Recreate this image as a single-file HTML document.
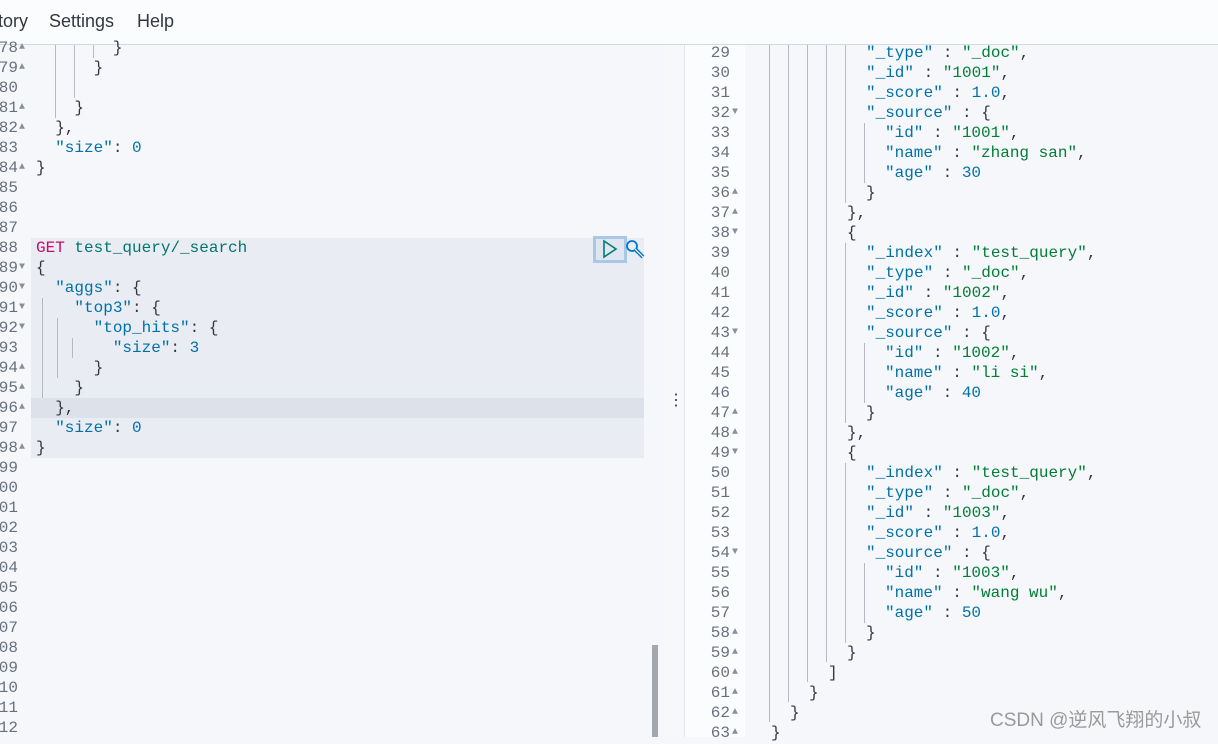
<!DOCTYPE html>
<html><head><meta charset="utf-8"><style>
*{margin:0;padding:0;box-sizing:border-box}
body{width:1218px;height:737px;overflow:hidden;background:#f5f7fa;position:relative;font-family:"Liberation Mono",monospace;}
.top{position:absolute;left:0;top:0;width:1218px;height:45px;background:#fbfcfd;border-bottom:1px solid #d3dae6;font-family:"Liberation Sans",sans-serif;font-size:18px;color:#343741}
.top span{position:absolute;top:11px}
.l{position:absolute;height:20px;line-height:21px;font-size:16px;white-space:pre;color:#343741}
.n{position:absolute;height:20px;line-height:21px;font-size:16px;color:#69707d;text-align:right;white-space:pre}
.f{position:absolute;font-size:10px;color:#8a8f99;line-height:20px;height:20px}
.g{position:absolute;width:1px;background:#b4b9c2}
.k{color:#0071a6}.s{color:#017d36}.v{color:#0071a6}.m{color:#c80a68}.p{color:#00756c}
</style></head><body>
<div class="top"><span style="left:-2px">tory</span><span style="left:49px">Settings</span><span style="left:137px">Help</span></div>

<div style="position:absolute;left:31px;top:238px;width:613px;height:220px;background:#e9ecf3"></div>
<div style="position:absolute;left:31px;top:398px;width:613px;height:20px;background:#dde1e9"></div>
<div style="position:absolute;left:664px;top:45px;width:20px;height:692px;background:#f7f8fa"></div>
<div style="position:absolute;left:684px;top:45px;width:1px;height:692px;background:#e3e6ec"></div>
<div style="position:absolute;left:685px;top:45px;width:60px;height:692px;background:#fbfcfd"></div>
<div style="position:absolute;left:652px;top:645px;width:6px;height:92px;background:#a3a7ae"></div>
<div style="position:absolute;left:668px;top:390px;font-family:'Liberation Sans',sans-serif;font-size:16px;color:#343741">⋮</div>

<div id="L"></div>
<div id="R"></div>

<div style="position:absolute;left:593px;top:236px;width:34px;height:27px;border:3px solid #a9c8e6;background:#dfe6f0"></div>
<svg style="position:absolute;left:600px;top:239px" width="20" height="20"><path d="M4 2 L16 10 L4 18 Z" fill="none" stroke="#017d73" stroke-width="1.6"/></svg>
<svg style="position:absolute;left:624px;top:238px" width="24" height="24"><circle cx="8" cy="8" r="5" fill="none" stroke="#0077cc" stroke-width="1.8"/><path d="M11 11 L19 19" stroke="#0077cc" stroke-width="4"/><path d="M11 11 L19 19" stroke="#fff" stroke-width="1.2"/></svg>

<div style="position:absolute;left:990px;top:705px;font-family:'Liberation Sans','Noto Sans CJK SC',sans-serif;font-size:19px;color:#9a9a9a">CSDN @逆风飞翔的小叔</div>

<script>
var L=document.getElementById('L'),h='';
var left={178:'        }',179:'      }',181:'    }',182:'  },',183:'  <span class="k">"size"</span>: <span class="v">0</span>',184:'}',
188:'<span class="m">GET</span> <span class="p">test_query/_search</span>',189:'{',190:'  <span class="k">"aggs"</span>: {',191:'    <span class="k">"top3"</span>: {',192:'      <span class="k">"top_hits"</span>: {',193:'        <span class="k">"size"</span>: <span class="v">3</span>',194:'      }',195:'    }',196:'  },',197:'  <span class="k">"size"</span>: <span class="v">0</span>',198:'}'};
var lf={178:'▲',179:'▲',181:'▲',182:'▲',184:'▲',189:'▼',190:'▼',191:'▼',192:'▼',194:'▲',195:'▲',196:'▲',198:'▲'};
for(var n=178;n<=212;n++){var y=38+(n-178)*20;
 h+='<div class="n" style="left:-22px;width:40px;top:'+y+'px">'+n+'</div>';
 if(lf[n])h+='<div class="f" style="left:19px;top:'+y+'px">'+lf[n]+'</div>';
 if(left[n])h+='<div class="l" style="left:36px;top:'+y+'px">'+left[n]+'</div>';}
h+='<div class="g" style="left:55px;top:45px;height:73px"></div><div class="g" style="left:74px;top:45px;height:53px"></div><div class="g" style="left:93px;top:45px;height:13px"></div>';
h+='<div class="g" style="left:42px;top:298px;height:100px"></div><div class="g" style="left:57px;top:318px;height:60px"></div><div class="g" style="left:72px;top:338px;height:20px"></div>';
L.innerHTML=h;
var R=document.getElementById('R');h='';
function K(k){return '<span class="k">"'+k+'"</span>'}
function S(v){return '<span class="s">"'+v+'"</span>'}
function V(v){return '<span class="v">'+v+'</span>'}
var r={};
function hit(st,id,name,age,first){
 if(!first)r[st-1]=[5,'{'];
 if(!first)r[st]=[6,K('_index')+' : '+S('test_query')+','];
 r[st+1]=[6,K('_type')+' : '+S('_doc')+','];
 r[st+2]=[6,K('_id')+' : '+S(id)+','];
 r[st+3]=[6,K('_score')+' : '+V('1.0')+','];
 r[st+4]=[6,K('_source')+' : {'];
 r[st+5]=[7,K('id')+' : '+S(id)+','];
 r[st+6]=[7,K('name')+' : '+S(name)+','];
 r[st+7]=[7,K('age')+' : '+V(age)];
 r[st+8]=[6,'}'];
}
hit(28,'1001','zhang san','30',true);r[37]=[5,'},'];
hit(39,'1002','li si','40');r[48]=[5,'},'];
hit(50,'1003','wang wu','50');r[59]=[5,'}'];
r[60]=[4,']'];r[61]=[3,'}'];r[62]=[2,'}'];r[63]=[1,'}'];
var rf={32:'▼',36:'▲',37:'▲',38:'▼',43:'▼',47:'▲',48:'▲',49:'▼',54:'▼',58:'▲',59:'▲',60:'▲',61:'▲',62:'▲',63:'▲'};
for(var n=29;n<=63;n++){var y=43+(n-29)*20;
 h+='<div class="n" style="left:690px;width:40px;top:'+y+'px">'+n+'</div>';
 if(rf[n])h+='<div class="f" style="left:732px;top:'+y+'px">'+rf[n]+'</div>';
 if(r[n])h+='<div class="l" style="left:'+(752+r[n][0]*19)+'px;top:'+y+'px">'+r[n][1]+'</div>';}
function G(x,y1,y2){h+='<div class="g" style="left:'+x+'px;top:'+y1+'px;height:'+(y2-y1)+'px"></div>'}
G(769,45,722);G(788,45,702);G(807,45,682);G(826,45,662);
G(845,45,203);G(845,243,423);G(845,463,643);
G(864,123,183);G(864,343,403);G(864,563,623);
R.innerHTML=h;
</script>
</body></html>
